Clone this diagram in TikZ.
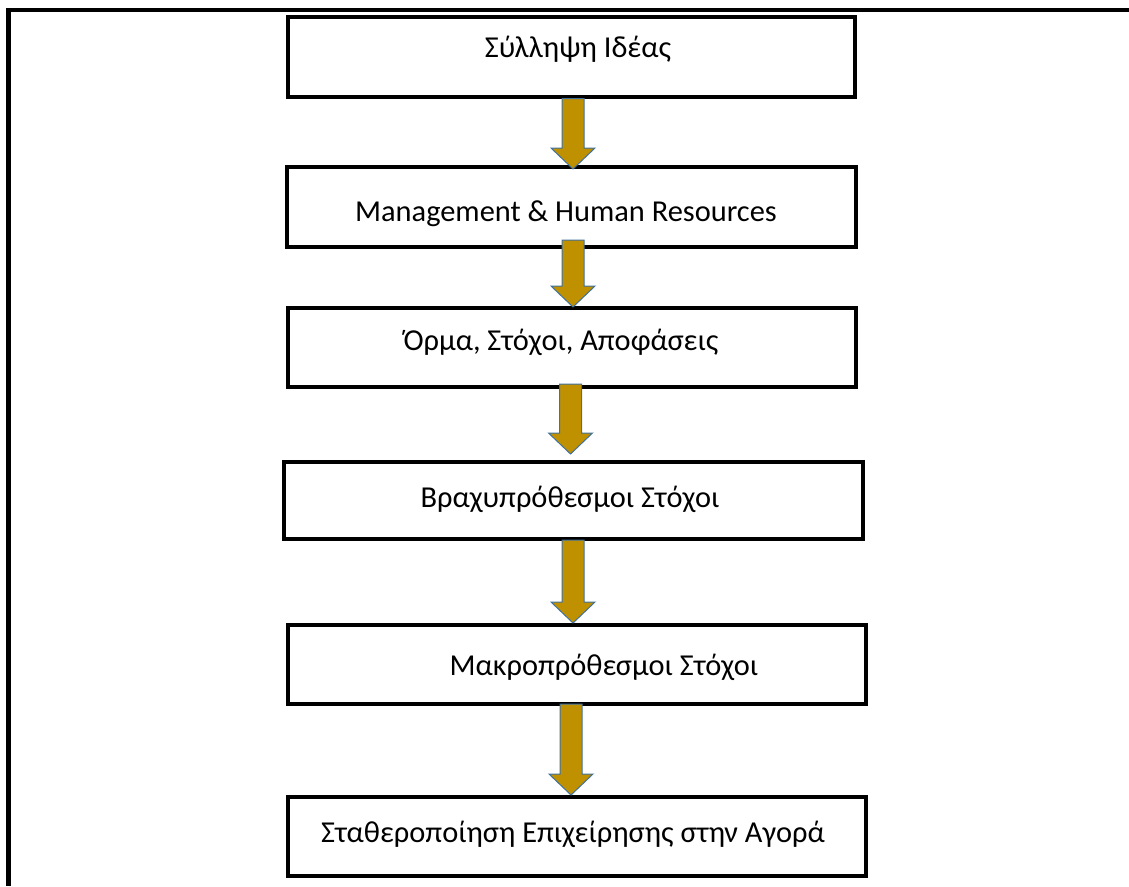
\documentclass[tikz,border=0pt]{standalone}
\usepackage{fontspec}
\setmainfont{Carlito}
\usetikzlibrary{calc}
\definecolor{gold}{HTML}{BF9000}
\definecolor{arrline}{HTML}{41719C}
\tikzset{
  box/.style={draw=black, line width=4pt, rectangle, inner sep=0pt, fill=white},
  lbl/.style={anchor=base, inner sep=0pt, font=\fontsize{30.4}{36}\selectfont},
  blockarr/.style={fill=gold, draw=arrline, line width=1pt, line join=miter},
  frame/.style={draw=black, line width=4.6pt, line join=miter}
}
\begin{document}
\begin{tikzpicture}[x=1pt,y=-1pt]
\useasboundingbox (0,0) rectangle (1129,886);
\draw[frame] (1129,10) -- (8.5,10) -- (8.5,886);

\node[box, minimum width=567pt, minimum height=80pt] (b1) at (571.5,57) {};
\node[box, minimum width=569pt, minimum height=80pt] (b2) at (571.5,207) {};
\node[box, minimum width=568pt, minimum height=79pt] (b3) at (572,347.5) {};
\node[box, minimum width=579pt, minimum height=77pt] (b4) at (573.5,500.5) {};
\node[box, minimum width=578pt, minimum height=79pt] (b5) at (577,664.5) {};
\node[box, minimum width=578pt, minimum height=79pt] (b6) at (577,836.5) {};

\node[lbl] (t1) at (578,57) {Σύλληψη Ιδέας};
\node[lbl] (t2) at (566,221) {Management \& Human Resources};
\node[lbl] (t3) at (561,350) {Όρμα, Στόχοι, Αποφάσεις};
\node[lbl] (t4) at (570,507) {Βραχυπρόθεσμοι Στόχοι};
\node[lbl] (t5) at (604,675) {Μακροπρόθεσμοι Στόχοι};
\node[lbl] (t6) at (573,842) {Σταθεροποίηση Επιχείρησης στην Αγορά};

\coordinate (a1s) at (573,98.5); \coordinate (a1e) at (573,169);
\coordinate (a2s) at (573,240);  \coordinate (a2e) at (573,307);
\coordinate (a3s) at (570.5,384); \coordinate (a3e) at (570.5,454);
\coordinate (a4s) at (573,540);  \coordinate (a4e) at (573,623);
\coordinate (a5s) at (571,704);  \coordinate (a5e) at (571,795);

\foreach \s/\e in {a1s/a1e,a2s/a2e,a3s/a3e,a4s/a4e,a5s/a5e}{
  \draw[blockarr] let \p1=(\s), \p2=(\e) in
    (\x1-11pt,\y1) -- (\x1+11pt,\y1) -- (\x1+11pt,\y2+21pt) -- (\x1+22pt,\y2+21pt)
    -- (\x1,\y2) -- (\x1-22pt,\y2+21pt) -- (\x1-11pt,\y2+21pt) -- cycle;
}
\end{tikzpicture}
\end{document}
